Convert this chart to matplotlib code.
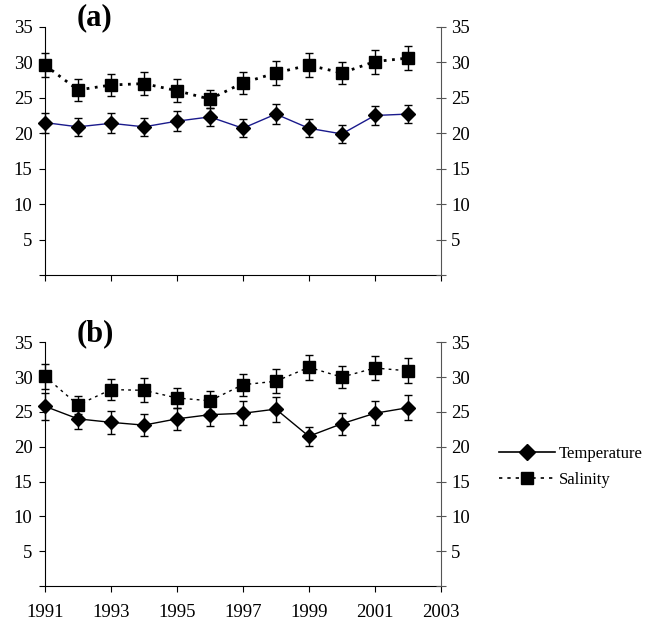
import matplotlib.pyplot as plt
from matplotlib.lines import Line2D
import numpy as np

plt.rcParams['font.family'] = ['Liberation Serif', 'DejaVu Serif']

years = list(range(1991, 2003))

# (a)
temp_a = [21.5, 20.9, 21.4, 20.9, 21.7, 22.3, 20.7, 22.7, 20.7, 19.9, 22.5, 22.7]
temp_a_err = [1.4, 1.3, 1.4, 1.3, 1.4, 1.3, 1.3, 1.4, 1.3, 1.3, 1.3, 1.3]
sal_a = [29.6, 26.1, 26.8, 27.0, 26.0, 24.8, 27.1, 28.5, 29.6, 28.5, 30.1, 30.6]
sal_a_err = [1.7, 1.5, 1.6, 1.6, 1.6, 1.3, 1.6, 1.7, 1.7, 1.6, 1.7, 1.7]

# (b)
temp_b = [25.8, 24.0, 23.5, 23.1, 24.0, 24.6, 24.8, 25.4, 21.5, 23.3, 24.8, 25.6]
temp_b_err = [1.9, 1.5, 1.7, 1.6, 1.6, 1.6, 1.7, 1.8, 1.4, 1.6, 1.7, 1.8]
sal_b = [30.1, 26.0, 28.2, 28.1, 27.0, 26.6, 28.9, 29.4, 31.4, 30.0, 31.3, 30.9]
sal_b_err = [1.8, 1.3, 1.5, 1.7, 1.5, 1.4, 1.6, 1.7, 1.8, 1.6, 1.7, 1.8]

yticks = [0, 5, 10, 15, 20, 25, 30, 35]
ylabels = ['', '5', '10', '15', '20', '25', '30', '35']
xticks = [1991, 1993, 1995, 1997, 1999, 2001, 2003]

fig = plt.figure(figsize=(6.52, 6.25), dpi=100)
ax_a = fig.add_axes([0.069, 0.56, 0.607, 0.397])
ax_b = fig.add_axes([0.069, 0.0624, 0.607, 0.39])


def draw_panel(ax, temp, temp_err, sal, sal_err, temp_color, sal_style, sal_lw, label, show_x):
    for vals, errs in [(sal, sal_err), (temp, temp_err)]:
        eb = ax.errorbar(years, vals, yerr=errs, fmt='none', ecolor='black', elinewidth=1,
                         capsize=3, capthick=1, zorder=2)
        for art in eb.lines[1] + eb.lines[2]:
            art.set_clip_on(False)
    ax.plot(years, sal, color='black', linestyle=sal_style, linewidth=sal_lw, zorder=3,
            clip_on=False)
    ax.plot(years, sal, linestyle='none', marker='s', markersize=8, color='black', zorder=4,
            clip_on=False)
    ax.plot(years, temp, color=temp_color, linewidth=1, zorder=3, clip_on=False)
    ax.plot(years, temp, linestyle='none', marker='D', markersize=7, color='black', zorder=4,
            clip_on=False)

    ax.set_xlim(1991, 2003)
    ax.set_ylim(0, 35)
    ax.set_yticks(yticks)
    ax.set_yticklabels(ylabels)
    ax.set_xticks(xticks)
    if show_x:
        ax.set_xticklabels([str(x) for x in xticks])
    else:
        ax.set_xticklabels([])
    ax.tick_params(axis='y', direction='out', length=4, labelsize=13.5, pad=5)
    ax.tick_params(axis='x', direction='out', length=4, labelsize=13.5, pad=9)
    ax.spines['top'].set_visible(False)
    ax.spines['right'].set_visible(False)

    ax2 = ax.twinx()
    ax2.set_ylim(0, 35)
    ax2.set_yticks(yticks)
    ax2.set_yticklabels(ylabels)
    ax2.tick_params(axis='y', direction='inout', length=7, labelsize=13.5, pad=4,
                    color='#555555')
    for s in ['top', 'left', 'bottom']:
        ax2.spines[s].set_visible(False)
    ax2.spines['right'].set_color('#555555')

    ax.text(0.08, 1.036, label, transform=ax.transAxes, fontsize=22,
            fontweight='bold', va='center', ha='left')


draw_panel(ax_a, temp_a, temp_a_err, sal_a, sal_a_err, '#1a1a8c', (0, (1, 2)), 2, '(a)', False)
draw_panel(ax_b, temp_b, temp_b_err, sal_b, sal_b_err, 'black', (0, (2, 3)), 1, '(b)', True)

handles = [
    Line2D([], [], color='black', linewidth=1.2, marker='D', markersize=8),
    Line2D([], [], color='black', linewidth=1.2, linestyle=(0, (2, 3)), marker='s', markersize=9),
]
fig.legend(handles, ['Temperature', 'Salinity'], loc='center left',
           bbox_to_anchor=(0.752, 0.2536), frameon=False, fontsize=12,
           handlelength=3.4, handletextpad=0.2, labelspacing=0.6, borderpad=0)

fig.savefig('out.png', dpi=100)
